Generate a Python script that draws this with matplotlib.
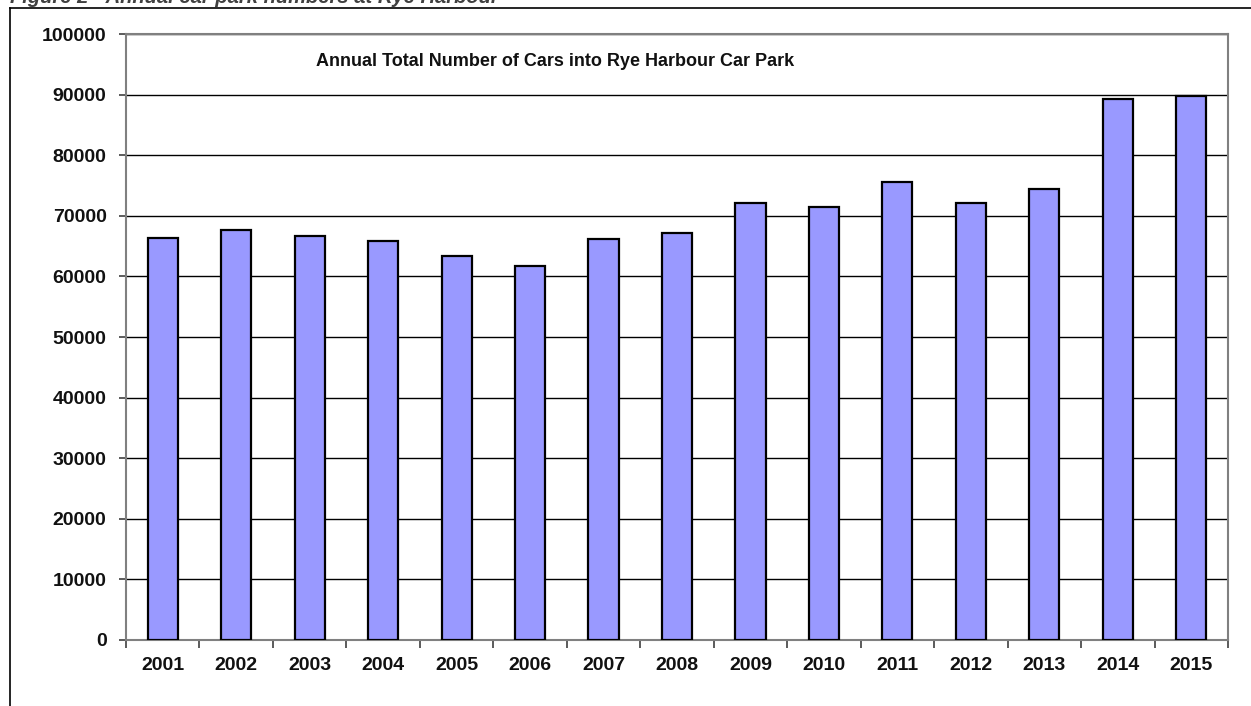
import numpy as np
import matplotlib.pyplot as plt
from matplotlib.lines import Line2D

years = ['2001', '2002', '2003', '2004', '2005', '2006', '2007', '2008',
         '2009', '2010', '2011', '2012', '2013', '2014', '2015']
cars = [66300, 67600, 66600, 65900, 63400, 61700, 66200, 67200,
        72100, 71500, 75600, 72100, 74500, 89300, 89700]

plt.rcParams['font.family'] = ['Liberation Sans', 'DejaVu Sans']

fig = plt.figure(figsize=(12.51, 7.06), dpi=100)
ax = fig.add_axes([0.1007, 0.0935, 0.8809, 0.8583])

x = np.arange(len(years))
ax.bar(x, cars, width=0.41, color='#9999ff', edgecolor='black', linewidth=1.6, zorder=3)

ax.set_xlim(-0.5, len(years) - 0.5)
ax.set_ylim(0, 100000)
ax.set_yticks(np.arange(0, 100001, 10000))
ax.set_yticklabels([str(v) for v in range(0, 100001, 10000)])
ax.set_xticks(x)
ax.set_xticklabels(years)
ax.set_xticks(np.arange(-0.5, len(years), 1), minor=True)

ax.grid(axis='y', color='black', linewidth=1.0, zorder=1)
for s in ax.spines.values():
    s.set_color('#808080')
    s.set_linewidth(1.5)

ax.tick_params(axis='y', length=5, width=1.2, color='#404040', pad=9,
               labelsize=14)
ax.tick_params(axis='x', which='major', length=0, pad=12, labelsize=14)
ax.tick_params(axis='x', which='minor', length=6, width=1.2, color='#404040')
for lab in ax.get_xticklabels() + ax.get_yticklabels():
    lab.set_fontweight('bold')
    lab.set_color('#111111')

ax.text(0.172, 0.955, 'Annual Total Number of Cars into Rye Harbour Car Park',
        transform=ax.transAxes, fontsize=13, fontweight='bold',
        ha='left', va='center', color='#111111')

# outer frame (left and top edges visible)
W, H = 1251, 706
fig.add_artist(Line2D([10 / W, 10 / W], [0, 1 - 8 / H], color='black',
                      linewidth=1.2, transform=fig.transFigure))
fig.add_artist(Line2D([10 / W, 1], [1 - 8 / H, 1 - 8 / H], color='black',
                      linewidth=1.2, transform=fig.transFigure))

fig.text(10 / W, 1 - 3 / H, 'Figure 2 - Annual car park numbers at Rye Harbour',
         fontsize=14.5, fontweight='bold', fontstyle='italic', color='#404040',
         ha='left', va='baseline')

fig.savefig('out.png', dpi=100)
plt.close(fig)
